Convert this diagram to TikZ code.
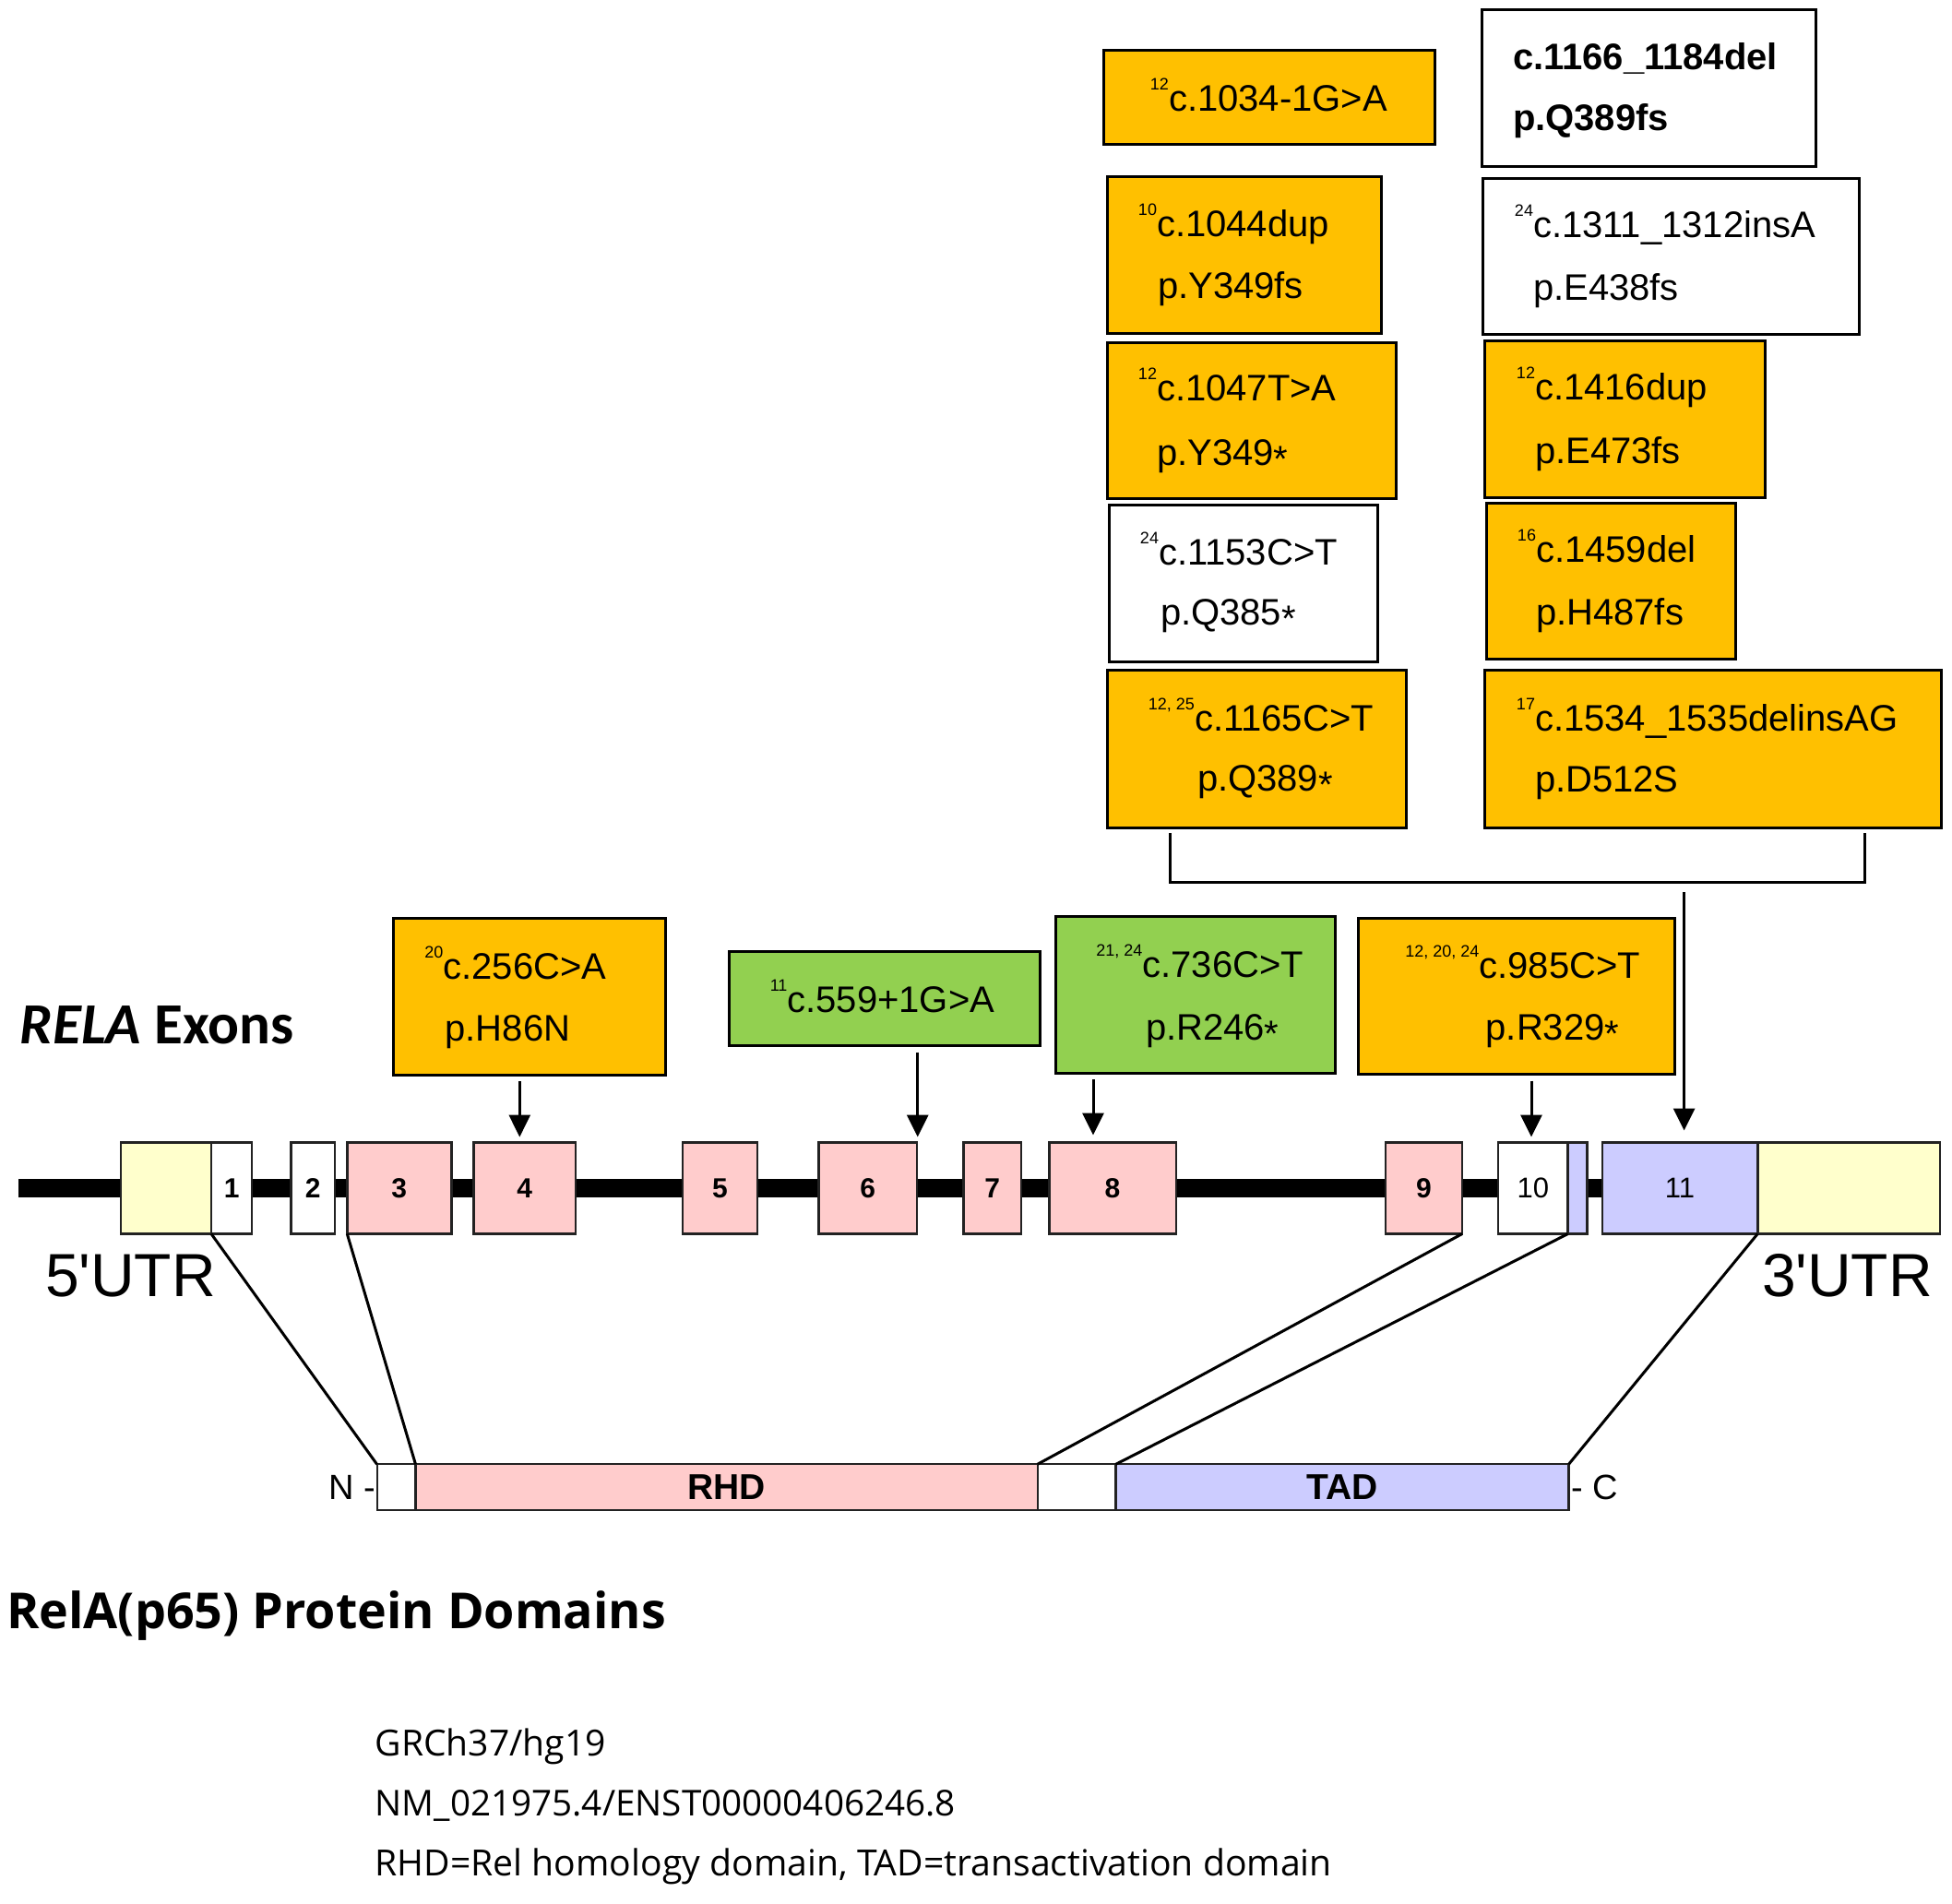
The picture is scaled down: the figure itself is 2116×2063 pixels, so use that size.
\documentclass[tikz,border=0pt]{standalone}
\usepackage{fontspec}
\usepackage{graphicx}
\setmainfont{Liberation Sans}
\newfontfamily\calfont{Carlito}
\newfontfamily\yhfont{Open Sans}
\usetikzlibrary{arrows.meta,calc}
\definecolor{orng}{HTML}{FFC000}
\definecolor{grn}{HTML}{92D050}
\definecolor{pnk}{HTML}{FFCCCC}
\definecolor{lav}{HTML}{CCCCFF}
\definecolor{ylw}{HTML}{FFFFCC}
\definecolor{exb}{HTML}{222222}
\newcommand\rsup[1]{\llap{\raisebox{11.5pt}{\fontsize{9pt}{9pt}\selectfont #1}}}
\newcommand\stp{\raisebox{-3.5pt}{*}}
\newcommand\abox[7]{\node[#2, anchor=north west, minimum width={(#5-#3)*0.5pt}, minimum height={(#6-#4)*0.5pt}] (#1) at (#3,#4) {#7};}
\tikzset{
  mut/.style={draw=black, line width=1.5pt, inner sep=0pt, outer sep=0pt},
  ob/.style={mut, fill=orng},
  gb/.style={mut, fill=grn},
  wb/.style={mut, fill=white},
  ex/.style={draw=exb, line width=1.2pt, inner sep=0pt, outer sep=0pt, font=\bfseries\fontsize{15pt}{16pt}\selectfont},
  exr/.style={ex, font=\fontsize{15.5pt}{16pt}\selectfont},
  pd/.style={draw=exb, line width=1.1pt, inner sep=0pt, outer sep=0pt, font=\bfseries\fontsize{19.5pt}{20pt}\selectfont},
  txt/.style={inner sep=0pt, outer sep=0pt, anchor=base west, font=\fontsize{20pt}{24pt}\selectfont},
  btxt/.style={txt, font=\bfseries\fontsize{20pt}{24pt}\selectfont},
  lbl/.style={inner sep=0pt, outer sep=0pt, anchor=base west},
  arr/.style={line width=1.5pt, -{Triangle[length=12pt,width=11.5pt]}},
  ln/.style={line width=1.5pt},
  intron/.style={line width=10pt}
}
\begin{document}
\begin{tikzpicture}[x=0.5pt, y=-0.5pt]
\useasboundingbox (0,0) rectangle (2116,2063);
% gene backbone
\coordinate (gs) at (20,1288);
\coordinate (ge) at (2100,1288);
\draw[intron] (gs) -- (ge);
% exons
\abox{u5}{ex,fill=ylw}{130.8}{1238.5}{229}{1337.5}{}
\abox{e1}{ex,fill=white}{229}{1238.5}{273.2}{1337.5}{1}
\abox{e2}{ex,fill=white}{315.6}{1238.5}{363}{1337.5}{2}
\abox{e3}{ex,fill=pnk}{376.3}{1238.5}{489.3}{1337.5}{3}
\abox{e4}{ex,fill=pnk}{513.4}{1238.5}{624.1}{1337.5}{4}
\abox{e5}{ex,fill=pnk}{740}{1238.5}{820.8}{1337.5}{5}
\abox{e6}{ex,fill=pnk}{887.4}{1238.5}{994}{1337.5}{6}
\abox{e7}{ex,fill=pnk}{1044.5}{1238.5}{1107}{1337.5}{7}
\abox{e8}{ex,fill=pnk}{1137.4}{1238.5}{1274.7}{1337.5}{8}
\abox{e9}{ex,fill=pnk}{1501.8}{1238.5}{1585}{1337.5}{9}
\abox{e10}{exr,fill=white}{1624}{1238.5}{1699.6}{1337.5}{10}
\abox{e10b}{ex,fill=lav}{1699.6}{1238.5}{1720.3}{1337.5}{}
\abox{e11}{exr,fill=lav}{1736.7}{1238.5}{1905.3}{1337.5}{11}
\abox{u3}{ex,fill=ylw}{1905.3}{1238.5}{2103}{1337.5}{}
% protein domains
\abox{pN}{pd,fill=white}{408.6}{1587.3}{450.5}{1637.3}{}
\abox{pR}{pd,fill=pnk}{450.5}{1587.3}{1124.6}{1637.3}{RHD}
\abox{pG}{pd,fill=white}{1124.6}{1587.3}{1209.5}{1637.3}{}
\abox{pT}{pd,fill=lav}{1209.5}{1587.3}{1700.5}{1637.3}{TAD}
\draw[ln] (u5.south east) -- (pN.north west);
\draw[ln] (e3.south west) -- (pR.north west);
\draw[ln] (e9.south east) -- (pR.north east);
\draw[ln] (e10.south east) -- (pT.north west);
\draw[ln] (e11.south east) -- (pT.north east);
\node[lbl, anchor=base east, font=\fontsize{19pt}{20pt}\selectfont] (nterm) at (407,1625) {N -};
\node[lbl, font=\fontsize{19pt}{20pt}\selectfont] (cterm) at (1703,1625) {- C};
% mutation boxes
\abox{mA}{ob}{1196}{54}{1555}{156}{}
\abox{mB}{wb}{1606}{10}{1968}{180}{}
\abox{mC}{ob}{1200}{191}{1497}{361}{}
\abox{mD}{wb}{1607.5}{193}{2015}{362.5}{}
\abox{mE}{ob}{1200}{371}{1513}{540}{}
\abox{mF}{ob}{1609}{369}{1913}{539}{}
\abox{mG}{wb}{1202}{547}{1493}{717}{}
\abox{mH}{ob}{1611}{545}{1881}{714}{}
\abox{mI}{ob}{1200.6}{726}{1524}{897}{}
\abox{mJ}{ob}{1609}{726}{2104}{897}{}
\abox{mK}{ob}{426.5}{995}{721}{1165}{}
\abox{mL}{gb}{790.6}{1031.5}{1127.3}{1133}{}
\abox{mM}{gb}{1144.5}{993}{1447}{1163}{}
\abox{mN}{ob}{1472}{995}{1815}{1164}{}
% mutation texts
\node[txt] (tA1) at (1267,120) {\rsup{12}c.1034-1G>A};
\node[btxt] (tB1) at (1640,75) {c.1166\_1184del};
\node[btxt] (tB2) at (1640,141) {p.Q389fs};
\node[txt] (tC1) at (1254,256) {\rsup{10}c.1044dup};
\node[txt] (tC2) at (1255,323) {p.Y349fs};
\node[txt] (tD1) at (1662,257) {\rsup{24}c.1311\_1312insA};
\node[txt] (tD2) at (1662,325) {p.E438fs};
\node[txt] (tE1) at (1254,434) {\rsup{12}c.1047T>A};
\node[txt] (tE2) at (1254,504) {p.Y349\stp};
\node[txt] (tF1) at (1664,433) {\rsup{12}c.1416dup};
\node[txt] (tF2) at (1664,502) {p.E473fs};
\node[txt] (tG1) at (1256,612) {\rsup{24}c.1153C>T};
\node[txt] (tG2) at (1258,677) {p.Q385\stp};
\node[txt] (tH1) at (1665,609) {\rsup{16}c.1459del};
\node[txt] (tH2) at (1665,677) {p.H487fs};
\node[txt] (tI1) at (1295,792) {\rsup{12, 25}c.1165C>T};
\node[txt] (tI2) at (1298,857) {p.Q389\stp};
\node[txt] (tJ1) at (1664,792) {\rsup{17}c.1534\_1535delinsAG};
\node[txt] (tJ2) at (1664,858) {p.D512S};
\node[txt] (tK1) at (480.5,1061) {\rsup{20}c.256C>A};
\node[txt] (tK2) at (482.6,1128) {p.H86N};
\node[txt] (tL1) at (853.5,1097) {\rsup{11}c.559+1G>A};
\node[txt] (tM1) at (1238.4,1059) {\rsup{21, 24}c.736C>T};
\node[txt] (tM2) at (1242,1127) {p.R246\stp};
\node[txt] (tN1) at (1603.5,1060) {\rsup{12, 20, 24}c.985C>T};
\node[txt] (tN2) at (1610.7,1127) {p.R329\stp};
% bracket and arrows
\coordinate (bl) at (1268,956);
\coordinate (br) at (2021.5,956);
\draw[ln] ($(mI.south -| bl)+(0,6)$) -- (bl) -- (br) -- ($(mJ.south -| br)+(0,6)$);
\coordinate (x4) at (563.3,0);
\coordinate (x6) at (994.7,0);
\coordinate (x8) at (1185,0);
\coordinate (x10) at (1660,0);
\coordinate (x11) at (1825.6,956);
\draw[arr] ($(mK.south -| x4)+(0,7)$) -- ($(e4.north -| x4)+(0,-6)$);
\draw[arr] ($(mL.south -| x6)+(0,7.5)$) -- ($(e6.north -| x6)+(0,-6)$);
\draw[arr] ($(mM.south -| x8)+(0,7)$) -- ($(e8.north -| x8)+(0,-8)$);
\draw[arr] ($(mN.south -| x10)+(0,7.5)$) -- ($(e10.north -| x10)+(0,-6)$);
\draw[arr] ($(x11)+(0,11)$) -- ($(e11.north -| x11)+(0,-13)$);
% titles and labels
\node[lbl] (title1) at (21.7,1131.7) {\resizebox{148.5pt}{!}{\calfont\bfseries{\itshape RELA} Exons}};
\node[lbl, font=\fontsize{33pt}{36pt}\selectfont] (utr5) at (49,1405) {5\textquotesingle UTR};
\node[lbl, font=\fontsize{33pt}{36pt}\selectfont] (utr3) at (1910,1405) {3\textquotesingle UTR};
\node[lbl] (title2) at (7,1765) {\resizebox{357.5pt}{!}{\yhfont\bfseries RelA(p65) Protein Domains}};
\node[lbl] (note1) at (406.7,1903) {\resizebox{125pt}{!}{\yhfont GRCh37/hg19}};
\node[lbl] (note2) at (406.7,1968) {\resizebox{314.5pt}{!}{\yhfont NM\_021975.4/ENST00000406246.8}};
\node[lbl] (note3) at (406.7,2033) {\resizebox{518.5pt}{!}{\yhfont RHD=Rel homology domain, TAD=transactivation domain}};
\end{tikzpicture}
\end{document}
